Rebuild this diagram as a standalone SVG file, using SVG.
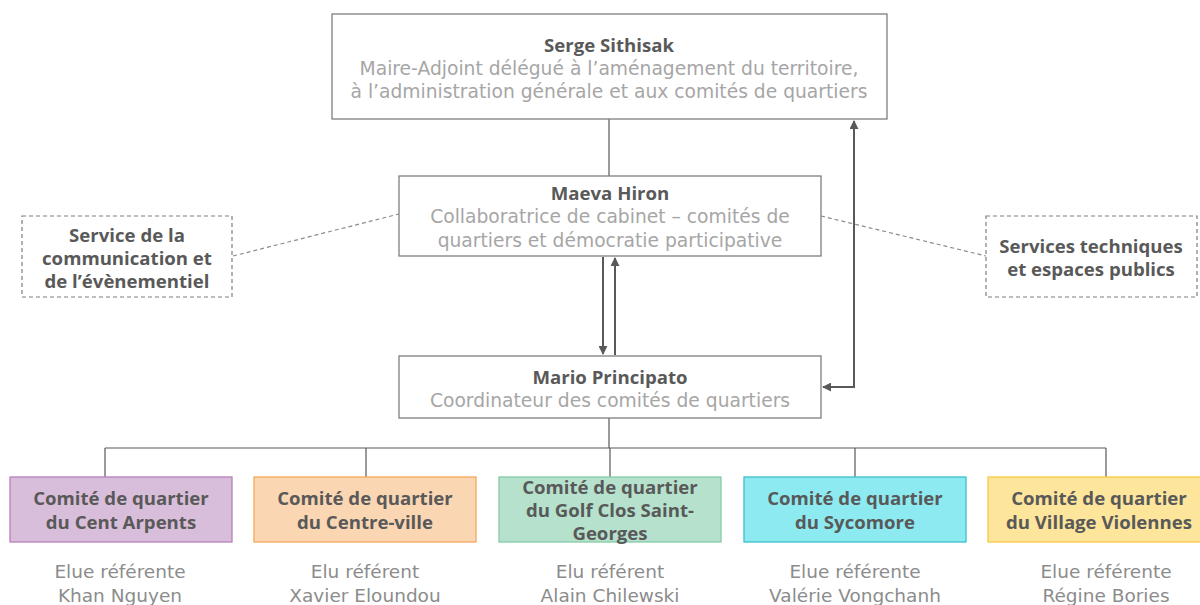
<svg xmlns="http://www.w3.org/2000/svg" width="1200" height="605" viewBox="0 0 1200 605">
<defs>
<style>
.box{fill:#fff;stroke:#7f7f7f;stroke-width:1.3}
.dbox{fill:#fff;stroke:#7f7f7f;stroke-width:1.2;stroke-dasharray:4 3}
.t{font-family:"Open Sans","DejaVu Sans",sans-serif;font-weight:bold;font-size:18.6px;fill:#595959;text-anchor:middle;dominant-baseline:central}
.s{font-family:"DejaVu Sans","Open Sans",sans-serif;font-size:18.7px;fill:#a6a6a6;text-anchor:middle;dominant-baseline:central}
.r{font-family:"DejaVu Sans","Open Sans",sans-serif;font-size:18.5px;fill:#8c8c8c;text-anchor:middle;dominant-baseline:central}
.ln{fill:none;stroke:#595959;stroke-width:1.2}
.ar{fill:none;stroke:#595959;stroke-width:2}
.dl{fill:none;stroke:#8c8c8c;stroke-width:1.2;stroke-dasharray:4 3}
</style>
<marker id="ah" viewBox="0 0 10 10" refX="9" refY="5" markerWidth="4.5" markerHeight="4.5" orient="auto-start-reverse">
<path d="M0 0 L10 5 L0 10 z" fill="#595959"/>
</marker>
</defs>
<rect width="1200" height="605" fill="#fff"/>
<g id="connectors">
<path class="ln" d="M609 119 V176"/>
<path class="ar" d="M603 257 V354" marker-end="url(#ah)"/>
<path class="ar" d="M615 355 V258" marker-end="url(#ah)"/>
<path class="ar" d="M823 387 H854 V121" marker-start="url(#ah)" marker-end="url(#ah)"/>
<path class="dl" d="M233 256 L399 214"/>
<path class="dl" d="M821 216 L986 256"/>
<path class="ln" d="M609 418 V448 M105 448 H1106 M105 448 V477 M366 448 V477 M610 448 V477 M855 448 V477 M1106 448 V477"/>
</g>
<g id="serge">
<rect class="box" x="332" y="14" width="555" height="105"/>
<text class="t" x="609" y="44">Serge Sithisak</text>
<text class="s" x="609" y="68">Maire-Adjoint délégué à l’aménagement du territoire,</text>
<text class="s" x="609" y="91">à l’administration générale et aux comités de quartiers</text>
</g>
<g id="maeva">
<rect class="box" x="399" y="176" width="422" height="80"/>
<text class="t" x="610" y="192">Maeva Hiron</text>
<text class="s" x="610" y="216">Collaboratrice de cabinet – comités de</text>
<text class="s" x="610" y="240">quartiers et démocratie participative</text>
</g>
<g id="mario">
<rect class="box" x="399" y="356" width="422" height="62"/>
<text class="t" x="610" y="376">Mario Principato</text>
<text class="s" x="610" y="400">Coordinateur des comités de quartiers</text>
</g>
<g id="communication">
<rect class="dbox" x="22" y="216" width="210" height="81"/>
<text class="t" x="127" y="234">Service de la</text>
<text class="t" x="127" y="257">communication et</text>
<text class="t" x="127" y="280">de l’évènementiel</text>
</g>
<g id="techniques">
<rect class="dbox" x="986" y="216" width="211" height="81"/>
<text class="t" x="1091" y="245">Services techniques</text>
<text class="t" x="1091" y="268">et espaces publics</text>
</g>
<g id="cent-arpents">
<rect x="10" y="477" width="222" height="65" fill="#d9bedb" stroke="#b77fbb" stroke-width="1.3"/>
<text class="t" x="121" y="497">Comité de quartier</text>
<text class="t" x="121" y="521">du Cent Arpents</text>
<text class="r" x="120" y="571">Elue référente</text>
<text class="r" x="120" y="595">Khan Nguyen</text>
</g>
<g id="centre-ville">
<rect x="254" y="477" width="222" height="65" fill="#fbd6b2" stroke="#f4a85c" stroke-width="1.3"/>
<text class="t" x="365" y="497">Comité de quartier</text>
<text class="t" x="365" y="521">du Centre-ville</text>
<text class="r" x="365" y="571">Elu référent</text>
<text class="r" x="365" y="595">Xavier Eloundou</text>
</g>
<g id="golf">
<rect x="499" y="477" width="222" height="65" fill="#b6e1cd" stroke="#84cba6" stroke-width="1.3"/>
<text class="t" x="610" y="486">Comité de quartier</text>
<text class="t" x="610" y="509">du Golf Clos Saint-</text>
<text class="t" x="610" y="532">Georges</text>
<text class="r" x="610" y="571">Elu référent</text>
<text class="r" x="610" y="595">Alain Chilewski</text>
</g>
<g id="sycomore">
<rect x="744" y="477" width="222" height="65" fill="#8ceaf0" stroke="#3cbfcc" stroke-width="1.3"/>
<text class="t" x="855" y="497">Comité de quartier</text>
<text class="t" x="855" y="521">du Sycomore</text>
<text class="r" x="855" y="571">Elue référente</text>
<text class="r" x="855" y="595">Valérie Vongchanh</text>
</g>
<g id="village">
<rect x="988" y="477" width="222" height="65" fill="#fde59b" stroke="#f7c843" stroke-width="1.3"/>
<text class="t" x="1099" y="497">Comité de quartier</text>
<text class="t" x="1099" y="521">du Village Violennes</text>
<text class="r" x="1106" y="571">Elue référente</text>
<text class="r" x="1106" y="595">Régine Bories</text>
</g>
</svg>
